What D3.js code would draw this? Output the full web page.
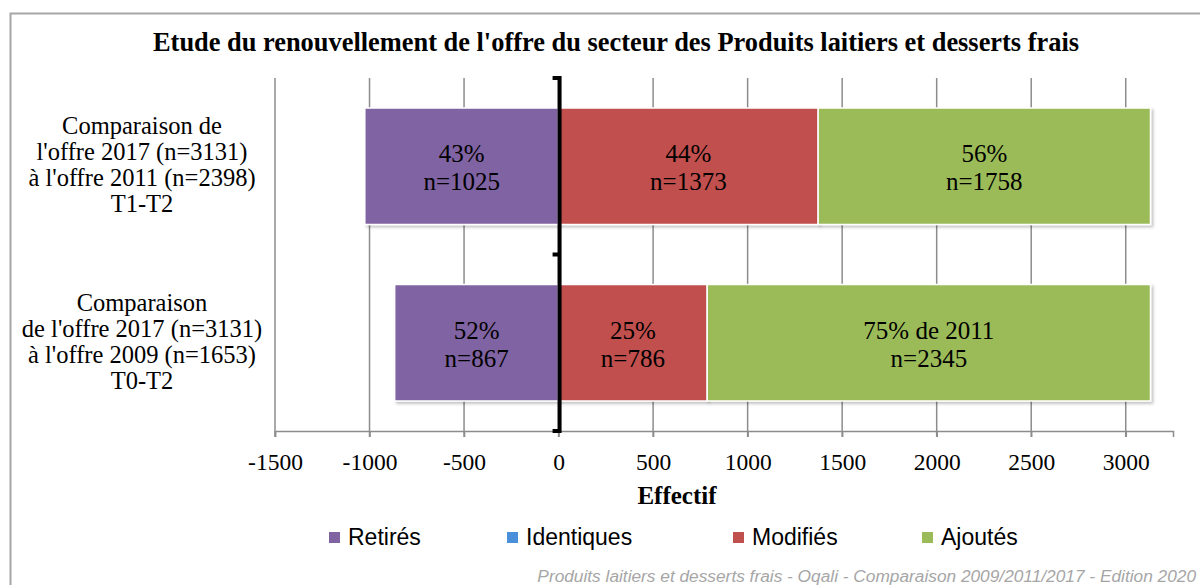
<!DOCTYPE html>
<html>
<head>
<meta charset="utf-8">
<script src="https://cdn.jsdelivr.net/npm/d3@7"></script>
<style>
  body { margin: 0; background: #fff; }
  svg text { font-family: "Liberation Serif", "DejaVu Serif", serif; }
</style>
</head>
<body>
<div id="chart"></div>
<script>
// Data
const categories = [
  ["Comparaison de", "l'offre 2017 (n=3131)", "à l'offre 2011 (n=2398)", "T1-T2"],
  ["Comparaison", "de l'offre 2017 (n=3131)", "à l'offre 2009 (n=1653)", "T0-T2"]
];
const seriesNames = ["Retirés", "Identiques", "Modifiés", "Ajoutés"];
const seriesColors = ["#8064A2", "#4A8FD9", "#C0504D", "#9BBB59"];
const retires = [-1025, -867];
const identiques = [0, 0];
const modifies = [1373, 786];
const ajoutes = [1758, 2345];
const retiresLabels = [["43%", "n=1025"], ["52%", "n=867"]];
const modifiesLabels = [["44%", "n=1373"], ["25%", "n=786"]];
const ajoutesLabels = [["56%", "n=1758"], ["75% de 2011", "n=2345"]];
const xTicks = [-1500, -1000, -500, 0, 500, 1000, 1500, 2000, 2500, 3000];

const W = 1200, H = 585;
const svg = d3.select('#chart').append('svg')
  .attr('width', W)
  .attr('height', H);

//Outer frame
svg.append('rect')
  .attr('x', 10.5).attr('y', 13.5)
  .attr('width', 1200).attr('height', 600)
  .style('fill', 'none')
  .style('stroke', '#a6a6a6')
  .style('stroke-width', '2px');

//Title
svg.append('text')
  .attr('x', 616).attr('y', 51)
  .attr('text-anchor', 'middle')
  .style('font-size', '26.4px')
  .style('font-weight', 'bold')
  .text("Etude du renouvellement de l'offre du secteur des Produits laitiers et desserts frais");

//Scales
const x = d3.scaleLinear().domain([-1500, 3250]).range([275, 1173]);
const y = d3.scaleBand().domain([0, 1]).range([78, 431]).paddingInner(0.34).paddingOuter(0.17);

//Grid lines
svg.append('g').selectAll('line')
  .data(xTicks)
  .enter().append('line')
  .attr('x1', d => x(d)).attr('x2', d => x(d))
  .attr('y1', 78).attr('y2', 437)
  .style('stroke', '#8c8c8c')
  .style('stroke-width', '1.5px');

//Axis
const axis = svg.append('g')
  .attr('transform', 'translate(0,431)')
  .call(d3.axisBottom(x).tickValues(xTicks).tickSize(6).tickPadding(16).tickFormat(d => String(d)));
axis.select('.domain').style('stroke', '#8c8c8c').style('stroke-width', '1.5px');
axis.selectAll('.tick line').style('stroke', '#8c8c8c').style('stroke-width', '1.5px');
axis.selectAll('.tick text')
  .style('font-family', '"Liberation Serif", "DejaVu Serif", serif')
  .style('font-size', '23.5px')
  .style('fill', '#000');

//Axis title
svg.append('text')
  .attr('x', 677).attr('y', 504)
  .attr('text-anchor', 'middle')
  .style('font-size', '25px')
  .style('font-weight', 'bold')
  .text('Effectif');

//Shadow filter
const defs = svg.append('defs');
const f = defs.append('filter').attr('id', 'shadow').attr('x', '-5%').attr('y', '-5%').attr('width', '110%').attr('height', '115%');
f.append('feDropShadow').attr('dx', 2).attr('dy', 2).attr('stdDeviation', 1.5).attr('flood-color', '#000').attr('flood-opacity', 0.25);

//Stacked segments
const segs = [];
categories.forEach((c, i) => {
  segs.push({i: i, x0: retires[i], x1: 0, color: seriesColors[0], label: retiresLabels[i]});
  segs.push({i: i, x0: 0, x1: identiques[i], color: seriesColors[1], label: null});
  segs.push({i: i, x0: identiques[i], x1: identiques[i] + modifies[i], color: seriesColors[2], label: modifiesLabels[i]});
  segs.push({i: i, x0: identiques[i] + modifies[i], x1: identiques[i] + modifies[i] + ajoutes[i], color: seriesColors[3], label: ajoutesLabels[i]});
});

svg.append('g').selectAll('rect')
  .data(segs.filter(d => d.x1 !== d.x0))
  .enter().append('rect')
  .attr('x', d => x(Math.min(d.x0, d.x1)))
  .attr('y', d => y(d.i))
  .attr('width', d => Math.abs(x(d.x1) - x(d.x0)))
  .attr('height', y.bandwidth())
  .attr('filter', 'url(#shadow)')
  .style('fill', d => d.color)
  .style('stroke', '#fff')
  .style('stroke-width', '1.5px');

//Segment labels
const lab = svg.append('g').selectAll('text')
  .data(segs.filter(d => d.label))
  .enter().append('text')
  .attr('text-anchor', 'middle')
  .style('font-size', '25px');
lab.each(function(d){
  const cx = (x(d.x0) + x(d.x1)) / 2;
  const cy = y(d.i) + y.bandwidth() / 2;
  d3.select(this).selectAll('tspan')
    .data(d.label)
    .enter().append('tspan')
    .attr('x', cx)
    .attr('y', (t, k) => cy - 4 + k * 28)
    .text(t => t);
});

//Zero bracket line
const zx = x(0) + 1;
svg.append('path')
  .attr('d', `M${zx - 7},78 H${zx} V431 H${zx - 7} M${zx - 7},254.5 H${zx}`)
  .style('fill', 'none')
  .style('stroke', '#000')
  .style('stroke-width', '4px');

//Category labels
svg.append('g').selectAll('text')
  .data(categories)
  .enter().append('text')
  .attr('text-anchor', 'middle')
  .style('font-size', '24.5px')
  .each(function(d, i){
    const cy = y(i) + y.bandwidth() / 2;
    d3.select(this).selectAll('tspan')
      .data(d)
      .enter().append('tspan')
      .attr('x', 142)
      .attr('y', (t, k) => cy - 32 + k * 26)
      .text(t => t);
  });

//Legend
const legendX = [329, 507, 733, 922];
const leg = svg.append('g').selectAll('g')
  .data(seriesNames)
  .enter().append('g')
  .attr('transform', (d, i) => `translate(${legendX[i]},545)`);
leg.append('rect')
  .attr('x', 0).attr('y', -13)
  .attr('width', 11).attr('height', 11)
  .style('fill', (d, i) => seriesColors[i]);
leg.append('text')
  .attr('x', 19).attr('y', 0)
  .style('font-family', '"Liberation Sans", sans-serif')
  .style('font-size', '23px')
  .text(d => d);

//Footer
svg.append('text')
  .attr('x', 1196).attr('y', 582)
  .attr('text-anchor', 'end')
  .style('font-family', '"Liberation Sans Narrow", "Liberation Sans", sans-serif')
  .style('font-style', 'italic')
  .style('font-size', '17.3px')
  .style('fill', '#a6a6a6')
  .text('Produits laitiers et desserts frais - Oqali - Comparaison 2009/2011/2017 - Edition 2020');
</script>
</body>
</html>
